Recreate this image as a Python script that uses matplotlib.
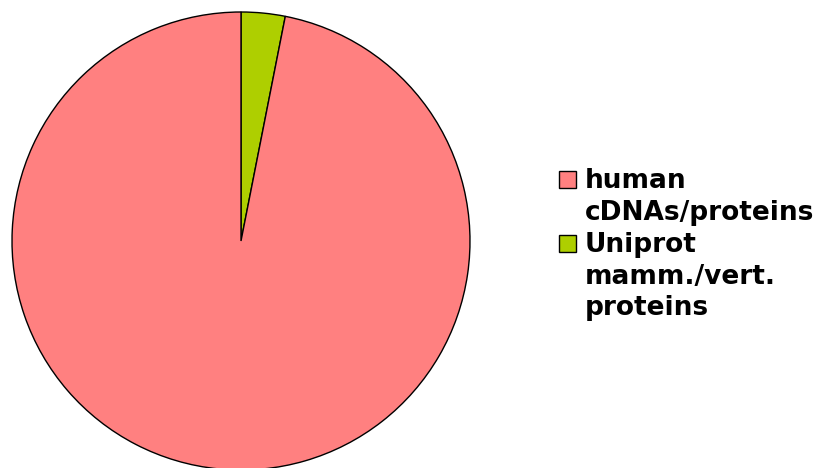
import matplotlib.pyplot as plt
from matplotlib.patches import Rectangle

# data
labels = ['human\ncDNAs/proteins', 'Uniprot\nmamm./vert.\nproteins']
shares = [96.9, 3.1]
colors = ['#ff8080', '#aecf00']

W, H = 819, 468
fig = plt.figure(figsize=(W / 100, H / 100), dpi=100)

# pie axes, placed in pixel terms
cx, cy, r = 241, 241, 229
ax = fig.add_axes([(cx - r) / W, (H - cy - r) / H, 2 * r / W, 2 * r / H])
ax.pie(shares[::-1], colors=colors[::-1], startangle=90, counterclock=False,
       wedgeprops=dict(edgecolor='black', linewidth=1.0))
ax.set_xlim(-1, 1)
ax.set_ylim(-1, 1)
ax.set_aspect('auto')
ax.axis('off')

# legend drawn by hand so the box sits beside the first line
baselines = [188, 252]
step = 31.7
for lab, col, base in zip(labels, colors, baselines):
    fig.patches.append(Rectangle((559 / W, 1 - base / H), 17 / W, 17 / H,
                                 transform=fig.transFigure, facecolor=col,
                                 edgecolor='black', linewidth=1.0))
    for i, line in enumerate(lab.split('\n')):
        fig.text(585 / W, 1 - (base + i * step) / H, line, ha='left',
                 va='baseline', fontsize=19, fontweight='bold')

fig.savefig('out.png', dpi=100)
